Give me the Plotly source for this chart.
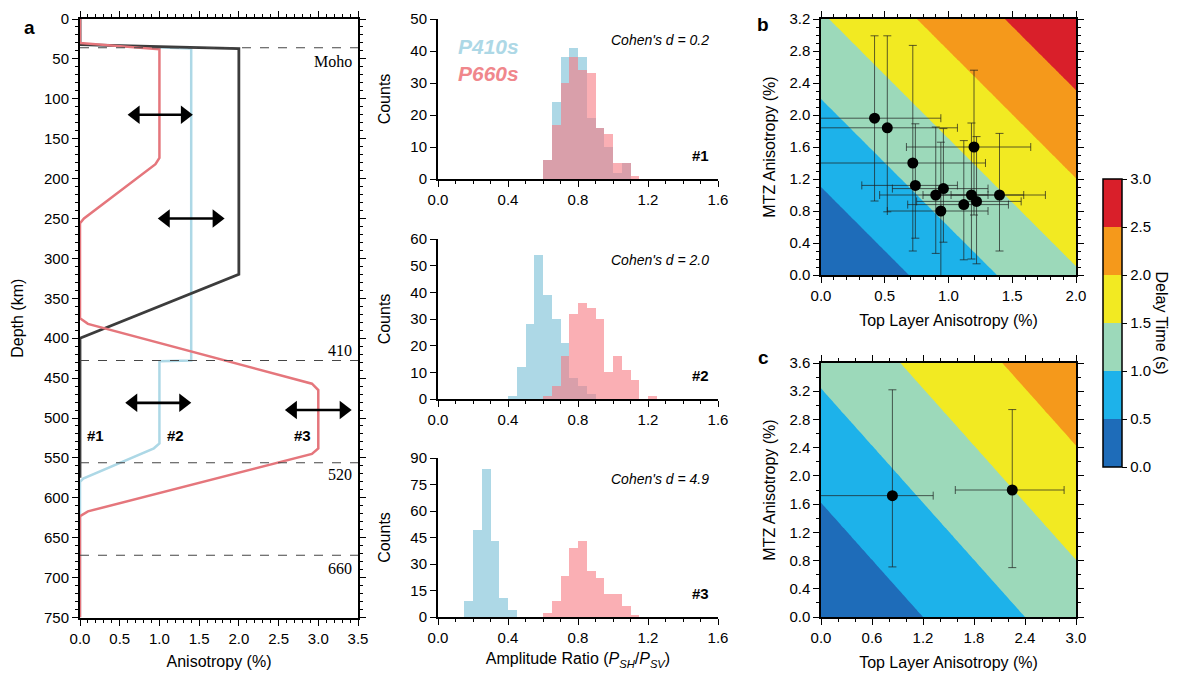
import numpy as np
import plotly.graph_objects as go

W, H = 1193, 679

# ---------------- Panel a : anisotropy profiles ----------------
DEPTH_M1 = [0, 32, 37, 320, 400, 575]
ANISO_M1 = [0, 0, 2.0, 2.0, 0.0, 0.0]
DEPTH_M2 = [0, 32, 37, 428, 429, 532, 538, 576, 580, 750]
ANISO_M2 = [0, 0, 1.4, 1.4, 1.0, 1.0, 0.93, 0.04, 0.0, 0.0]
DEPTH_M3 = [0, 30, 38, 174, 182, 250, 256, 375, 382, 457, 465, 538, 545, 617, 623, 750]
ANISO_M3 = [0, 0, 1.0, 1.0, 0.95, 0.05, 0.0, 0.0, 0.1, 2.92, 3.0, 3.0, 2.92, 0.1, 0.0, 0.0]

DISC_DEPTHS = [36, 428, 556, 672]
DISC_LABELS = ["Moho", "410", "520", "660"]
DISC_LABEL_DEPTHS = [53, 415, 571, 688]

MODEL_LABELS = ["#1", "#2", "#3"]
MODEL_LABEL_X = [0.19, 1.20, 2.80]
MODEL_LABEL_DEPTH = 522

ARROW_DEPTHS = [120, 250, 481, 490]
ARROW_X0 = [0.60, 0.98, 0.57, 2.58]
ARROW_X1 = [1.42, 1.82, 1.40, 3.42]

# ---------------- Histograms ----------------
BIN_W = 0.05
H1_P410_START, H1_P410 = 0.60, [6, 24, 38, 41, 38, 19, 16, 10, 2, 5, 0]
H1_P660_START, H1_P660 = 0.60, [6, 17, 30, 38, 34, 33, 16, 14, 5, 5, 1]
H2_P410_START, H2_P410 = 0.40, [1, 12, 28, 54, 39, 30, 21, 8, 5, 2]
H2_P660_START, H2_P660 = 0.60, [1, 5, 16, 32, 36, 34, 30, 10, 16, 11, 7, 0, 1]
H3_P410_START, H3_P410 = 0.15, [9, 49, 84, 43, 11, 4]
H3_P660_START, H3_P660 = 0.60, [2, 9, 23, 39, 43, 26, 22, 13, 13, 6, 1]
COHEN = ["0.2", "2.0", "4.9"]
HIST_YMAX = [50, 60, 90]
HIST_DTICK = [10, 10, 15]

# ---------------- Panels b and c ----------------
B_TOP = [0.42, 0.52, 0.72, 0.74, 0.90, 0.96, 0.94, 1.12, 1.18, 1.22, 1.40, 1.20]
B_MTZ = [1.96, 1.84, 1.40, 1.12, 1.00, 1.08, 0.80, 0.88, 1.00, 0.92, 1.00, 1.60]
B_TOP_LO = [-0.2, -0.2, -0.2, 0.32, 0.46, 0.56, 0.52, 0.68, 0.80, 0.75, 1.02, 0.67]
B_TOP_HI = [0.94, 1.07, 1.29, 1.07, 1.31, 1.31, 1.31, 1.47, 1.59, 1.57, 1.76, 1.645]
B_MTZ_LO = [0.925, 0.79, 0.30, 0.46, 0.27, 0.41, -0.1, 0.19, 0.20, 0.14, 0.30, 0.75]
B_MTZ_HI = [2.99, 2.99, 2.87, 1.89, 1.85, 1.83, 1.66, 1.68, 1.90, 1.73, 1.77, 2.56]

C_TOP = [0.84, 2.25]
C_MTZ = [1.72, 1.80]
C_TOP_LO = [-0.2, 1.58]
C_TOP_HI = [1.32, 2.86]
C_MTZ_LO = [0.71, 0.70]
C_MTZ_HI = [3.22, 2.94]

# delay time (s) per % anisotropy of each layer
B_COEF_TOP, B_COEF_MTZ = 0.725, 0.4545
C_COEF_TOP, C_COEF_MTZ = 0.4167, 0.3086

DELAY_TICKS = [0.0, 0.5, 1.0, 1.5, 2.0, 2.5, 3.0]
DELAY_COLORS = ["#1e6cb9", "#1db2ea", "#9cd9ba", "#f2ea22", "#f5991b", "#d91f2a"]

# ---------------- styles ----------------
C_BLUE = "rgb(173,216,230)"
C_RED = "rgb(229,118,124)"
C_BLACK = "rgb(60,60,60)"
FONT = "Liberation Sans, Arial, sans-serif"


def px_x(p):
    return p / W


def px_y(p):
    return 1 - p / H


fig = go.Figure()

# profiles
fig.add_trace(go.Scatter(x=ANISO_M2, y=DEPTH_M2, mode="lines", line=dict(color=C_BLUE, width=2.5),
                         xaxis="x", yaxis="y", showlegend=False))
fig.add_trace(go.Scatter(x=ANISO_M1, y=DEPTH_M1, mode="lines", line=dict(color=C_BLACK, width=2.8),
                         xaxis="x", yaxis="y", showlegend=False))
fig.add_trace(go.Scatter(x=ANISO_M3, y=DEPTH_M3, mode="lines", line=dict(color=C_RED, width=2.5),
                         xaxis="x", yaxis="y", showlegend=False))
for d in DISC_DEPTHS:
    fig.add_trace(go.Scatter(x=[0, 3.5], y=[d, d], mode="lines",
                             line=dict(color="rgb(70,70,70)", width=1.1, dash="dash"),
                             xaxis="x", yaxis="y", showlegend=False))

# double-headed arrows (shaft + triangle heads)
HEAD_INSET = 0.10
for d, x0, x1 in zip(ARROW_DEPTHS, ARROW_X0, ARROW_X1):
    fig.add_trace(go.Scatter(x=[x0 + HEAD_INSET, x1 - HEAD_INSET], y=[d, d], mode="lines",
                             line=dict(color="black", width=2.6), xaxis="x", yaxis="y",
                             showlegend=False))
    fig.add_trace(go.Scatter(x=[x0 + HEAD_INSET, x1 - HEAD_INSET], y=[d, d], mode="markers",
                             marker=dict(symbol=["triangle-left", "triangle-right"], size=16,
                                         color="black", line=dict(width=0)),
                             xaxis="x", yaxis="y", showlegend=False, cliponaxis=False))

# histograms
hist_sets = [
    (H1_P410_START, H1_P410, H1_P660_START, H1_P660),
    (H2_P410_START, H2_P410, H2_P660_START, H2_P660),
    (H3_P410_START, H3_P410, H3_P660_START, H3_P660),
]
for i, (s1, v1, s2, v2) in enumerate(hist_sets):
    ax = str(i + 2)
    x1 = [s1 + BIN_W * (k + 0.5) for k in range(len(v1))]
    x2 = [s2 + BIN_W * (k + 0.5) for k in range(len(v2))]
    fig.add_trace(go.Bar(x=x1, y=v1, width=BIN_W, marker=dict(color=C_BLUE, line=dict(width=0)),
                         xaxis="x" + ax, yaxis="y" + ax, showlegend=False))
    fig.add_trace(go.Bar(x=x2, y=v2, width=BIN_W,
                         marker=dict(color="rgba(247,122,130,0.6)", line=dict(width=0)),
                         xaxis="x" + ax, yaxis="y" + ax, showlegend=False))

# delay-time fields
colorscale = []
for k, c in enumerate(DELAY_COLORS):
    colorscale += [[k / 6, c], [(k + 1) / 6, c]]


def delay_field(xmax, ymax, a, b):
    gx = np.linspace(0, xmax, 81)
    gy = np.linspace(0, ymax, 81)
    X, Y = np.meshgrid(gx, gy)
    return gx, gy, a * X + b * Y


for (xmax, ymax, a, b, ax, show) in [(2.0, 3.2, B_COEF_TOP, B_COEF_MTZ, "5", True),
                                     (3.0, 3.6, C_COEF_TOP, C_COEF_MTZ, "6", False)]:
    gx, gy, z = delay_field(xmax, ymax, a, b)
    fig.add_trace(go.Contour(
        x=gx, y=gy, z=z, zmin=0, zmax=3, autocontour=False,
        contours=dict(start=0, end=3, size=0.5, coloring="fill", showlines=False),
        line=dict(width=0), colorscale=colorscale, showscale=show,
        xaxis="x" + ax, yaxis="y" + ax,
        colorbar=dict(x=px_x(1103), xanchor="left", y=px_y(179), yanchor="top",
                      len=288 / H, lenmode="fraction", thickness=19, thicknessmode="pixels",
                      outlinewidth=1.5, outlinecolor="black", tickvals=DELAY_TICKS,
                      ticktext=[f"{t:.1f}" for t in DELAY_TICKS], ticks="outside", ticklen=5,
                      tickcolor="black", tickfont=dict(family=FONT, size=15, color="black"),
                      xpad=0, ypad=0),
    ))


def pts(ax, xs, ys, xlo, xhi, ylo, yhi):
    fig.add_trace(go.Scatter(
        x=xs, y=ys, mode="markers",
        marker=dict(color="black", size=11),
        error_x=dict(type="data", symmetric=False,
                     array=[h - v for h, v in zip(xhi, xs)],
                     arrayminus=[v - l for l, v in zip(xlo, xs)],
                     color="rgba(30,30,30,0.7)", thickness=1, width=4),
        error_y=dict(type="data", symmetric=False,
                     array=[h - v for h, v in zip(yhi, ys)],
                     arrayminus=[v - l for l, v in zip(ylo, ys)],
                     color="rgba(30,30,30,0.7)", thickness=1, width=4),
        xaxis="x" + ax, yaxis="y" + ax, showlegend=False))


pts("5", B_TOP, B_MTZ, B_TOP_LO, B_TOP_HI, B_MTZ_LO, B_MTZ_HI)
pts("6", C_TOP, C_MTZ, C_TOP_LO, C_TOP_HI, C_MTZ_LO, C_MTZ_HI)

# ---------------- axes ----------------
tickfont = dict(family=FONT, size=15, color="black")
titlefont = dict(family=FONT, size=16, color="black")


def axis(domain, rng, dtick, minor, fmt, mirror, anchor, title=None, standoff=None, lw=1.5):
    d = dict(domain=domain, range=rng, dtick=dtick, tick0=0, tickformat=fmt, showgrid=False,
             zeroline=False, showline=True, linecolor="black", linewidth=lw, ticks="outside",
             ticklen=6, tickwidth=1.3, tickcolor="black", tickfont=tickfont, anchor=anchor,
             mirror=mirror, automargin=False,
             minor=dict(dtick=minor, tick0=0, ticks="outside", ticklen=3, tickwidth=1, tickcolor="black"))
    if title:
        d["title"] = dict(text=title, font=titlefont, standoff=standoff)
    return d


lay = dict(width=W, height=H, margin=dict(l=0, r=0, t=0, b=0), paper_bgcolor="white",
           plot_bgcolor="white", barmode="overlay", bargap=0, font=dict(family=FONT))

lay["xaxis"] = axis([px_x(80), px_x(358)], [0, 3.5], 0.5, 0.1, ".1f", "allticks", "y",
                    "Anisotropy (%)", 10, lw=2)
lay["yaxis"] = axis([px_y(617.5), px_y(19)], [750, 0], 50, 10, "d", "allticks", "x",
                    "Depth (km)", 16, lw=2)

hist_y = [(19, 179), (239, 399), (458, 617)]
for i, (yt, yb) in enumerate(hist_y):
    n = str(i + 2)
    lay["xaxis" + n] = axis([px_x(438), px_x(718)], [0, 1.6], 0.4, 0.1, ".1f", False, "y" + n,
                            "Amplitude Ratio (<i>P</i><sub><i>SH</i></sub>/<i>P</i><sub><i>SV</i></sub>)" if i == 2 else None,
                            8, lw=2)
    lay["yaxis" + n] = axis([px_y(yb), px_y(yt)], [0, HIST_YMAX[i]], HIST_DTICK[i], None, "d", False,
                            "x" + n, "Counts", 16, lw=2)
    lay["yaxis" + n]["minor"] = dict(ticks="")

lay["xaxis5"] = axis([px_x(821), px_x(1076)], [0, 2.0], 0.5, 0.1, ".1f", "allticks", "y5",
                     "Top Layer Anisotropy (%)", 12)
lay["yaxis5"] = axis([px_y(275), px_y(19)], [0, 3.2], 0.4, 0.1, ".1f", "allticks", "x5",
                     "MTZ Anisotropy (%)", 10)
lay["xaxis6"] = axis([px_x(821), px_x(1076)], [0, 3.0], 0.6, 0.2, ".1f", "allticks", "y6",
                     "Top Layer Anisotropy (%)", 12)
lay["yaxis6"] = axis([px_y(617), px_y(363)], [0, 3.6], 0.4, 0.2, ".1f", "allticks", "x6",
                     "MTZ Anisotropy (%)", 10)

fig.update_layout(**lay)

# ---------------- annotations ----------------
ann = []
serif = dict(family="Liberation Serif, Times New Roman, serif", size=16, color="black")
for lab, dep in zip(DISC_LABELS, DISC_LABEL_DEPTHS):
    ann.append(dict(x=3.45, y=dep, xref="x", yref="y", text=lab, showarrow=False,
                    xanchor="right", yanchor="middle", font=serif))
for lab, xv in zip(MODEL_LABELS, MODEL_LABEL_X):
    ann.append(dict(x=xv, y=MODEL_LABEL_DEPTH, xref="x", yref="y", text="<b>" + lab + "</b>",
                    showarrow=False, font=dict(family=FONT, size=15, color="black")))

for i in range(3):
    n = str(i + 2)
    ann.append(dict(x=1.56, y=0.93, xref="x" + n, yref="y" + n + " domain",
                    text=f"<i>Cohen's d = {COHEN[i]}</i>", showarrow=False, xanchor="right",
                    font=dict(family=FONT, size=14, color="black")))
    ann.append(dict(x=1.56, y=0.08, xref="x" + n, yref="y" + n + " domain",
                    text=f"<b>#{i + 1}</b>", showarrow=False, xanchor="right",
                    font=dict(family=FONT, size=15, color="black")))

ann.append(dict(x=px_x(456), y=px_y(33), xref="paper", yref="paper", text="<b><i>P410s</i></b>",
                showarrow=False, xanchor="left", font=dict(family=FONT, size=21, color=C_BLUE)))
ann.append(dict(x=px_x(456), y=px_y(60), xref="paper", yref="paper", text="<b><i>P660s</i></b>",
                showarrow=False, xanchor="left",
                font=dict(family=FONT, size=21, color="rgb(240,135,140)")))

for lab, x, y in [("a", 22, 15), ("b", 763, 12), ("c", 763, 357)]:
    ann.append(dict(x=px_x(x), y=px_y(y), xref="paper", yref="paper", text="<b>" + lab + "</b>",
                    showarrow=False, font=dict(family=FONT, size=19, color="black")))

ann.append(dict(x=px_x(1172), y=px_y(323), xref="paper", yref="paper", text="Delay Time (s)",
                showarrow=False, textangle=90, font=titlefont))

fig.update_layout(annotations=ann)
fig.write_html("out.html", config={"displayModeBar": False},
               post_script="document.body.style.margin='0px';")
